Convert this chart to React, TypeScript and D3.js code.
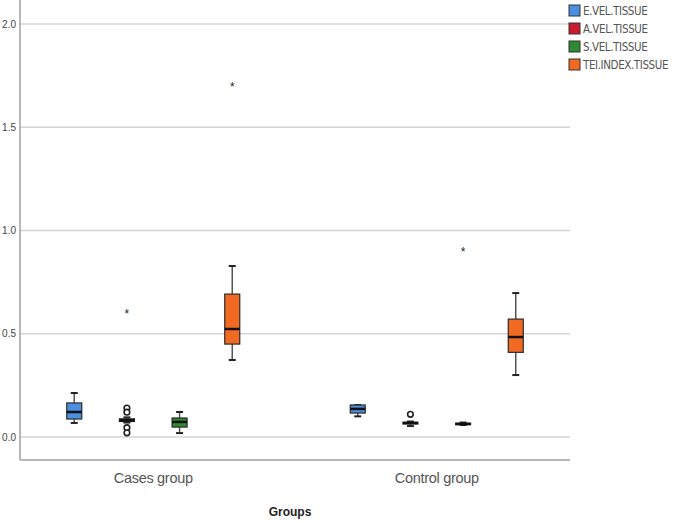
import React from "react";
import * as d3 from "d3";

const groups = ["Cases group", "Control group"];
const seriesNames = ["E.VEL.TISSUE", "A.VEL.TISSUE", "S.VEL.TISSUE", "TEI.INDEX.TISSUE"];
const seriesColors = ["#4a8fe0", "#cc1a2e", "#2f8a34", "#f26a22"];
const yTicks = [0, 0.5, 1.0, 1.5, 2.0];

// [min, q1, median, q3, max] per series, for Cases then Control
const casesStats = [
  [0.068, 0.087, 0.121, 0.165, 0.213],
  [0.07, 0.075, 0.081, 0.088, 0.095],
  [0.019, 0.048, 0.073, 0.092, 0.121],
  [0.373, 0.45, 0.523, 0.692, 0.828],
];
const controlStats = [
  [0.1, 0.116, 0.136, 0.155, 0.155],
  [0.053, 0.063, 0.068, 0.071, 0.075],
  [0.058, 0.06, 0.063, 0.067, 0.07],
  [0.3, 0.41, 0.484, 0.571, 0.697],
];

// outliers: group index, series index, value, kind
const outlierGroup = [0, 0, 0, 0, 0, 1, 1];
const outlierSeries = [1, 1, 1, 1, 1, 1, 2];
const outlierValue = [0.14, 0.12, 0.045, 0.02, 0.6, 0.11, 0.9];
const outlierKind = ["o", "o", "o", "o", "*", "o", "*"];
const extremeGroup = [0];
const extremeSeries = [3];
const extremeValue = [1.7];

export default function App() {
  const W = 685, H = 523;
  const left = 20, right = 570, axisBottom = 460;
  const y = d3.scaleLinear().domain([0, 2]).range([437, 24]);
  const x0 = d3.scalePoint<string>().domain(groups).range([left, right]).padding(0.47);
  const x1 = d3.scalePoint<string>().domain(seriesNames).range([-79, 79]);
  const bw = 15;
  const cap = 7;
  const allStats = [casesStats, controlStats];

  const boxes: React.ReactNode[] = [];
  groups.forEach((g, gi) => {
    seriesNames.forEach((s, si) => {
      const [mn, q1, md, q3, mx] = allStats[gi][si];
      const cx = (x0(g) as number) + (x1(s) as number);
      const col = seriesColors[si];
      boxes.push(
        <g key={g + s}>
          <line x1={cx} x2={cx} y1={y(mx)} y2={y(q3)} stroke="#555" strokeWidth={1.5} />
          <line x1={cx} x2={cx} y1={y(q1)} y2={y(mn)} stroke="#555" strokeWidth={1.5} />
          <line x1={cx - cap / 2} x2={cx + cap / 2} y1={y(mx)} y2={y(mx)} stroke="#222" strokeWidth={2} />
          <line x1={cx - cap / 2} x2={cx + cap / 2} y1={y(mn)} y2={y(mn)} stroke="#222" strokeWidth={2} />
          <rect x={cx - bw / 2} y={y(q3)} width={bw} height={Math.max(1, y(q1) - y(q3))} fill={col} stroke="#2a2a2a" strokeWidth={1.2} />
          <line x1={cx - bw / 2} x2={cx + bw / 2} y1={y(md)} y2={y(md)} stroke="#111" strokeWidth={2.5} />
        </g>
      );
    });
  });

  const outs = outlierValue.map((v, i) => {
    const cx = (x0(groups[outlierGroup[i]]) as number) + (x1(seriesNames[outlierSeries[i]]) as number);
    if (outlierKind[i] === "o") {
      return <circle key={"o" + i} cx={cx} cy={y(v)} r={2.8} fill="white" stroke="#222" strokeWidth={1.6} />;
    }
    return (
      <text key={"o" + i} x={cx} y={y(v) + 5} textAnchor="middle" fontSize={12} fill="#222" fontFamily="Liberation Sans, Arial, sans-serif">*</text>
    );
  });
  const extremes = extremeValue.map((v, i) => {
    const cx = (x0(groups[extremeGroup[i]]) as number) + (x1(seriesNames[extremeSeries[i]]) as number);
    return (
      <text key={"e" + i} x={cx} y={y(v) + 5} textAnchor="middle" fontSize={12} fill="#222" fontFamily="Liberation Sans, Arial, sans-serif">*</text>
    );
  });

  return (
    <>
      <style>{`body{margin:0}`}</style>
      <svg width={W} height={H} style={{ display: "block", background: "white" }}>
        {yTicks.map((t) => (
          <g key={t}>
            <line x1={left} x2={right} y1={y(t)} y2={y(t)} stroke="#d4d4d4" strokeWidth={1.5} />
            <text x={16} y={y(t) + 3.5} textAnchor="end" fontSize={10} fill="#444" fontFamily="Liberation Sans, Arial, sans-serif">
              {t.toFixed(1)}
            </text>
          </g>
        ))}
        <line x1={left} x2={left} y1={0} y2={axisBottom} stroke="#a0a0a0" strokeWidth={1.5} />
        <line x1={left} x2={right} y1={axisBottom} y2={axisBottom} stroke="#a0a0a0" strokeWidth={1.5} />
        {groups.map((g) => (
          <text key={g} x={x0(g)} y={483} textAnchor="middle" fontSize={14.5} fill="#555" fontFamily="Liberation Sans, Arial, sans-serif" letterSpacing={-0.3}>
            {g}
          </text>
        ))}
        <text x={290} y={516} textAnchor="middle" fontSize={12} fontWeight="bold" fill="#222" fontFamily="Liberation Sans, Arial, sans-serif">
          Groups
        </text>
        {boxes}
        {outs}
        {extremes}
        {seriesNames.map((s, i) => (
          <g key={s} transform={`translate(569, ${5 + i * 18})`}>
            <rect x={0} y={0} width={11} height={11} fill={seriesColors[i]} stroke="#333" strokeWidth={1} />
            <text x={14} y={10} fontSize={11.5} fill="#555" fontFamily="Liberation Sans Narrow, Arial Narrow, DejaVu Sans Condensed, sans-serif" letterSpacing={-0.4}>
              {s}
            </text>
          </g>
        ))}
      </svg>
    </>
  );
}
